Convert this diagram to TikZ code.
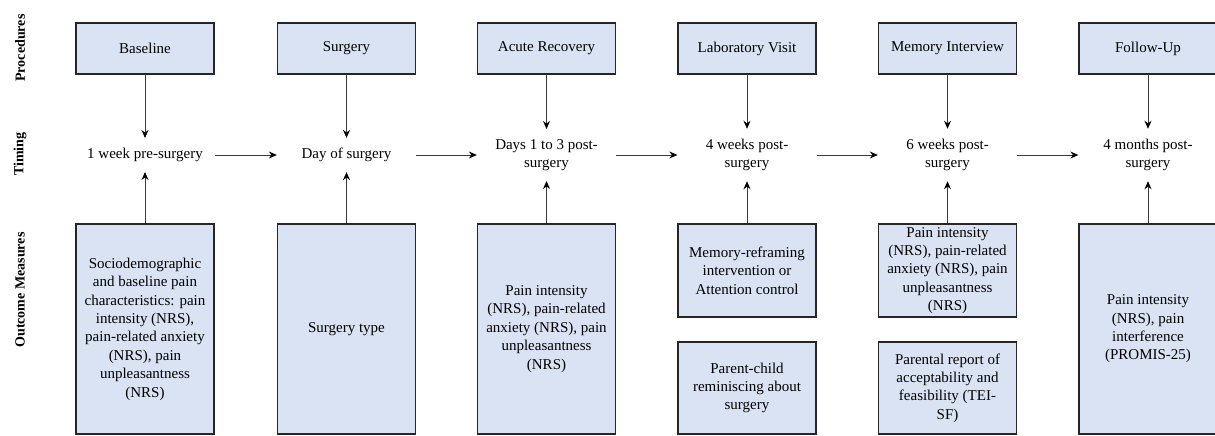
\documentclass[tikz,border=0pt]{standalone}
\usepackage{fontspec}
\newfontfamily\tnr{Liberation Serif}
\newfontfamily\tnrb{Liberation Serif Bold}
\usetikzlibrary{arrows.meta}
\definecolor{boxfill}{HTML}{DAE3F3}
\definecolor{boxline}{HTML}{262626}
\definecolor{arrline}{HTML}{3A3A3A}
\begin{document}
\begin{tikzpicture}[x=1pt,y=-1pt,
  every node/.style={font=\tnr\fontsize{15}{18.4}\selectfont},
  box/.style={draw=boxline, line width=1.3pt, fill=boxfill, minimum width=138pt, inner sep=0pt, align=center},
  tbox/.style={align=center, inner ysep=10pt, inner xsep=4pt},
  side/.style={rotate=90, font=\tnrb\fontsize{14}{16}\selectfont},
  arr/.style={draw=arrline, line width=0.9pt, -{Stealth[length=8pt,width=7pt,black]}}]
\useasboundingbox (0,0) rectangle (1215,436);

% side labels
\node[side] (s1) at (20,48) {Procedures};
\node[side] (s2) at (20,154) {Timing};
\node[side] (s3) at (20,290) {Outcome Measures};

% procedures
\node[box, minimum height=51pt] (p1) at (145,48.5) {Baseline};
\node[box, minimum height=51pt] (p2) at (346.5,48.5) {Surgery};
\node[box, minimum height=51pt] (p3) at (546.5,48.5) {Acute Recovery};
\node[box, minimum height=51pt] (p4) at (747,48.5) {Laboratory Visit};
\node[box, minimum height=51pt] (p5) at (947.5,48.5) {Memory Interview};
\node[box, minimum height=51pt] (p6) at (1148,48.5) {Follow-Up};

% timing
\node[tbox] (t1) at (145,155) {1 week pre-surgery};
\node[tbox] (t2) at (346.5,155) {Day of surgery};
\node[tbox] (t3) at (546.5,155) {Days 1 to 3 post-\\surgery};
\node[tbox] (t4) at (747,155) {4 weeks post-\\surgery};
\node[tbox] (t5) at (947.5,155) {6 weeks post-\\surgery};
\node[tbox] (t6) at (1148,155) {4 months post-\\surgery};

% outcome measures
\node[box, minimum height=210pt] (o1) at (145,329) {Sociodemographic\\and baseline pain\\characteristics: pain\\intensity (NRS),\\pain-related anxiety\\(NRS), pain\\unpleasantness\\(NRS)};
\node[box, minimum height=210pt] (o2) at (346.5,329) {Surgery type};
\node[box, minimum height=210pt] (o3) at (546.5,329) {Pain intensity\\(NRS), pain-related\\anxiety (NRS), pain\\unpleasantness\\(NRS)};
\node[box, minimum height=93pt] (o4a) at (747,270.5) {Memory-reframing\\intervention or\\Attention control};
\node[box, minimum height=92pt] (o4b) at (747,388) {Parent-child\\reminiscing about\\surgery};
\node[box, minimum height=93pt] (o5a) at (947.5,270.5) {Pain intensity\\(NRS), pain-related\\anxiety (NRS), pain\\unpleasantness\\(NRS)};
\node[box, minimum height=92pt] (o5b) at (947.5,388) {Parental report of\\acceptability and\\feasibility (TEI-\\SF)};
\node[box, minimum height=210pt] (o6) at (1148,329) {Pain intensity\\(NRS), pain\\interference\\(PROMIS-25)};

% arrows down
\foreach \i in {1,...,6} {
  \draw[arr] (p\i) -- (t\i);
}
% arrows up
\draw[arr] (o1) -- (t1);
\draw[arr] (o2) -- (t2);
\draw[arr] (o3) -- (t3);
\draw[arr] (o4a) -- (t4);
\draw[arr] (o5a) -- (t5);
\draw[arr] (o6) -- (t6);
% horizontal arrows
\draw[arr] (t1 -| p1.east) -- (t2 -| p2.west);
\draw[arr] (t2 -| p2.east) -- (t3 -| p3.west);
\draw[arr] (t3 -| p3.east) -- (t4 -| p4.west);
\draw[arr] (t4 -| p4.east) -- (t5 -| p5.west);
\draw[arr] (t5 -| p5.east) -- (t6 -| p6.west);
\end{tikzpicture}
\end{document}
